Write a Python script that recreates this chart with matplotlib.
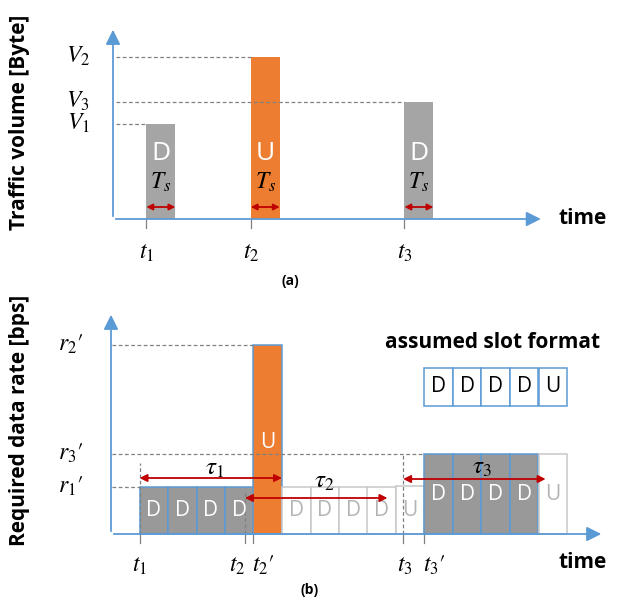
import matplotlib.pyplot as plt

plt.rcParams['font.family'] = ['Open Sans', 'DejaVu Sans']
plt.rcParams['mathtext.fontset'] = 'stix'

# colours
BLUE = '#5B9BD5'
ORANGE = '#ED7D31'
GRAY = '#A5A5A5'
DGRAY = '#999999'
RED = '#C00000'
LGRAY = '#C8C8C8'

# ---- panel (a) data: arrivals, volumes, direction ----
a_times = [1.15, 4.75, 10.05]
a_volumes = [95, 162, 117]
a_dirs = ['D', 'U', 'D']
a_vlabels = [r'$V_1$', r'$V_2$', r'$V_3$']
a_tlabels = [r'$t_1$', r'$t_2$', r'$t_3$']
Ts = 1.0

# ---- panel (b) data: slots ----
slot_labels = ['D', 'D', 'D', 'D', 'U'] * 3
slot_heights = [47, 47, 47, 47, 189, 47, 47, 47, 47, 48, 80, 80, 80, 80, 80]
slot_used = [1, 1, 1, 1, 1, 0, 0, 0, 0, 0, 1, 1, 1, 1, 0]
slot_first = 1
b_arrivals = [1.0, 4.7, 10.25]
b_starts = [1, 5, 11]
b_rates = [47, 189, 80]
b_rlabels = [r"$r_1\prime$", r"$r_2\prime$", r"$r_3\prime$"]
tau = 5
tau_y = [56, 36, 55]

fig = plt.figure(figsize=(6.21, 6.09), dpi=100)

# ================= panel (a) =================
ax = fig.add_axes([0, 0, 1, 1])
ax.set_xlim(-113 / 29, (621 - 113) / 29)
ax.set_ylim(-390, 219)
ax.axis('off')

ax.annotate('', xy=(14.85, 0), xytext=(0, 0),
            arrowprops=dict(arrowstyle='-|>', color=BLUE, lw=1.3, mutation_scale=22))
ax.annotate('', xy=(0, 192), xytext=(0, 0),
            arrowprops=dict(arrowstyle='-|>', color=BLUE, lw=1.3, mutation_scale=22))

for t, v, d, vl, tl in zip(a_times, a_volumes, a_dirs, a_vlabels, a_tlabels):
    c = ORANGE if d == 'U' else GRAY
    ax.bar(t, v, width=Ts, align='edge', color=c, zorder=2)
    ax.plot([0.1, t], [v, v], ls=(0, (3, 2)), color='#808080', lw=0.9, zorder=3)
    ax.text(-1.2, v, vl, fontsize=17, ha='center', va='center')
    ax.plot([t, t], [0, -9], color='#808080', lw=0.9)
    ax.text(t, -34, tl, fontsize=17, ha='center', va='center')
    ax.text(t + Ts / 2, 66, d, color='white', fontsize=19, ha='center', va='center', zorder=4)
    ax.text(t + Ts / 2, 36, r'$T_s$', fontsize=17, ha='center', va='center', zorder=4)
    ax.annotate('', xy=(t + Ts, 12), xytext=(t, 12),
                arrowprops=dict(arrowstyle='<|-|>', color=RED, lw=1.3, mutation_scale=9,
                                shrinkA=0, shrinkB=0), zorder=4)

ax.text(15.35, 0, 'time', fontsize=15, fontweight='bold', ha='left', va='center')

# ================= panel (b) =================
bx = fig.add_axes([0, 0, 1, 1])
bx.set_xlim(-111 / 28.5, (621 - 111) / 28.5)
bx.set_ylim(-75, 534)
bx.axis('off')
bx.patch.set_alpha(0)

for i, (lab, h, used) in enumerate(zip(slot_labels, slot_heights, slot_used)):
    x0 = slot_first + i
    if used:
        c = ORANGE if lab == 'U' else DGRAY
        bx.bar(x0, h, width=1, align='edge', color=c, edgecolor=BLUE, lw=1.1, zorder=2)
        bx.text(x0 + 0.5, h / 2 if lab == 'D' else 92, lab, color='white', fontsize=15,
                ha='center', va='center', zorder=4)
    else:
        bx.bar(x0, h, width=1, align='edge', color='white', edgecolor=LGRAY, lw=1.1, zorder=2)
        bx.text(x0 + 0.5, h / 2, lab, color='#B4B4B4', fontsize=15,
                ha='center', va='center', zorder=4)

bx.annotate('', xy=(17.3, 0), xytext=(0, 0),
            arrowprops=dict(arrowstyle='-|>', color=BLUE, lw=1.3, mutation_scale=22), zorder=5)
bx.annotate('', xy=(0, 222), xytext=(0, 0),
            arrowprops=dict(arrowstyle='-|>', color=BLUE, lw=1.3, mutation_scale=22), zorder=5)

for s, r, rl in zip(b_starts, b_rates, b_rlabels):
    bx.plot([0.05, s], [r, r], ls=(0, (3, 2)), color='#808080', lw=0.9, zorder=3)
    bx.text(-1.4, r, rl, fontsize=17, ha='center', va='center')

# arrival markers
b_dash_top = [71, 44, 79]
for t, top in zip(b_arrivals, b_dash_top):
    bx.plot([t, t], [0, top], ls=(0, (3, 2)), color='#808080', lw=0.9, zorder=3)
for t in b_arrivals + b_starts[1:]:
    bx.plot([t, t], [0, -9], color='#808080', lw=0.9)

tick_text = [(1.0, r'$t_1$'), (4.42, r'$t_2$'), (5.35, r"$t_2\prime$"),
             (10.3, r'$t_3$'), (11.35, r"$t_3\prime$")]
for x, s in tick_text:
    bx.text(x, -32, s, fontsize=17, ha='center', va='center')

# deadlines
tau_lab_pos = [(3.65, 66), (7.5, 53), (13.0, 67)]
for i, (t, y) in enumerate(zip(b_arrivals, tau_y)):
    bx.annotate('', xy=(t + tau, y), xytext=(t, y),
                arrowprops=dict(arrowstyle='<|-|>', color=RED, lw=1.3, mutation_scale=11,
                                shrinkA=0, shrinkB=0), zorder=6)
    bx.text(tau_lab_pos[i][0], tau_lab_pos[i][1], r'$\tau_%d$' % (i + 1), fontsize=18,
            ha='center', va='center', zorder=6)

bx.text(15.7, -29, 'time', fontsize=15, fontweight='bold', ha='left', va='center')

# slot format legend
for i, lab in enumerate(slot_labels[:5]):
    bx.bar(11 + i, 38, width=1, bottom=128, align='edge', color='white',
           edgecolor=BLUE, lw=1.1)
    bx.text(11.5 + i, 147, lab, fontsize=15, ha='center', va='center')
bx.text(13.4, 191, 'assumed slot format', fontsize=15, fontweight='bold',
        ha='center', va='center')

# panel titles and axis labels
fig.text(20 / 621, 1 - 122 / 609, 'Traffic volume [Byte]', rotation=90, fontsize=15,
         fontweight='bold', ha='center', va='center')
fig.text(20 / 621, 1 - 420 / 609, 'Required data rate [bps]', rotation=90, fontsize=15,
         fontweight='bold', ha='center', va='center')
fig.text(290 / 621, 1 - 281 / 609, '(a)', fontsize=10, fontweight='bold', ha='center', va='center')
fig.text(310 / 621, 1 - 590 / 609, '(b)', fontsize=10, fontweight='bold', ha='center', va='center')

fig.savefig('out.png', dpi=100)
